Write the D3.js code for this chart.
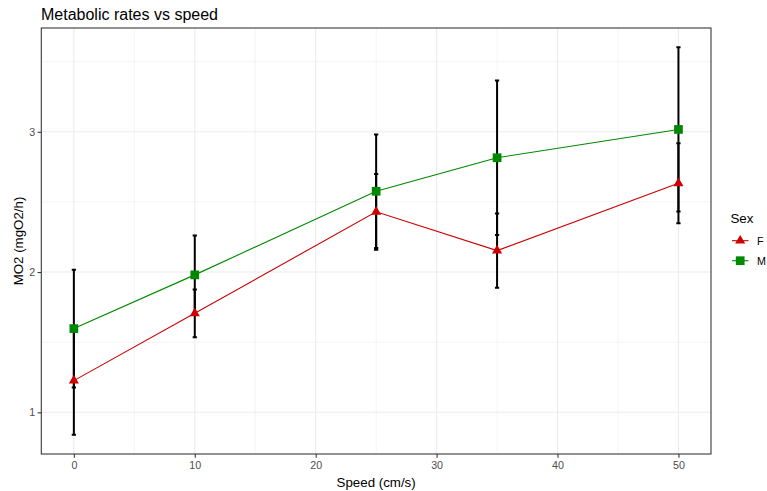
<!DOCTYPE html>
<html><head><meta charset="utf-8">
<script src="https://cdn.jsdelivr.net/npm/d3@7"></script>
<style>body{margin:0;background:#fff}svg{display:block;font-family:"Liberation Sans",Arial,sans-serif}</style>
</head><body><svg id="c" width="767" height="491"></svg>
<script>
const speeds = [0, 10, 25, 35, 50];
const meanF = [1.226, 1.706, 2.43, 2.153, 2.633];
const errF  = [0.385, 0.17, 0.27, 0.265, 0.285];
const meanM = [1.597, 1.98, 2.576, 2.815, 3.017];
const errM  = [0.42, 0.28, 0.405, 0.55, 0.585];
const sexes = ["F", "M"];
const xTicks = [0, 10, 20, 30, 40, 50];
const yTicks = [1, 2, 3];

const colors = {F: "#cc0000", M: "#008800"};
const series = [
  {sex: "F", mean: meanF, err: errF},
  {sex: "M", mean: meanM, err: errM}
];
const capHalf = 0.175;

const P = {l: 41.3, r: 711, t: 28, b: 454};
const svg = d3.select("#c");

// domains with ggplot-style 5% expansion
const lo = d3.min(series, s => d3.min(s.mean, (m, i) => m - s.err[i]));
const hi = d3.max(series, s => d3.max(s.mean, (m, i) => m + s.err[i]));
const yPad = (hi - lo) * 0.05;
const xlo = d3.min(speeds) - capHalf, xhi = d3.max(speeds) + capHalf;
const xPad = (xhi - xlo) * 0.05;
const x = d3.scaleLinear().domain([xlo - xPad, xhi + xPad]).range([P.l, P.r]);
const y = d3.scaleLinear().domain([lo - yPad, hi + yPad]).range([P.b, P.t]);

// grid
const g = svg.append("g");
const xMinor = d3.range(5, 50, 10);
const yMinor = [1.5, 2.5, 3.5].filter(v => v > y.domain()[0] && v < y.domain()[1]);
g.selectAll(".xm").data(xMinor).join("line").attr("x1", d => x(d)).attr("x2", d => x(d))
  .attr("y1", P.t).attr("y2", P.b).attr("stroke", "#ebebeb").attr("stroke-width", 0.55);
g.selectAll(".ym").data(yMinor).join("line").attr("y1", d => y(d)).attr("y2", d => y(d))
  .attr("x1", P.l).attr("x2", P.r).attr("stroke", "#ebebeb").attr("stroke-width", 0.55);
g.selectAll(".xM").data(xTicks).join("line").attr("x1", d => x(d)).attr("x2", d => x(d))
  .attr("y1", P.t).attr("y2", P.b).attr("stroke", "#ebebeb").attr("stroke-width", 1.07);
g.selectAll(".yM").data(yTicks).join("line").attr("y1", d => y(d)).attr("y2", d => y(d))
  .attr("x1", P.l).attr("x2", P.r).attr("stroke", "#ebebeb").attr("stroke-width", 1.07);

// lines
const line = d3.line().x((d) => x(d[0])).y(d => y(d[1]));
series.forEach(s => {
  svg.append("path").attr("d", line(speeds.map((v, i) => [v, s.mean[i]])))
    .attr("fill", "none").attr("stroke", colors[s.sex]).attr("stroke-width", 1.1);
});

// error bars
series.forEach(s => {
  const eb = svg.append("g").attr("stroke", "#000").attr("stroke-width", 2).attr("fill", "none");
  speeds.forEach((v, i) => {
    const top = s.mean[i] + s.err[i], bot = s.mean[i] - s.err[i];
    eb.append("path").attr("d",
      `M${x(v - capHalf)},${y(top)}H${x(v + capHalf)}M${x(v)},${y(top)}V${y(bot)}M${x(v - capHalf)},${y(bot)}H${x(v + capHalf)}`);
  });
});

// points
const tri = d3.symbol().type(d3.symbolTriangle).size(44)();
const sq = d3.symbol().type(d3.symbolSquare).size(76)();
series.forEach(s => {
  svg.append("g").selectAll("path").data(speeds).join("path")
    .attr("d", s.sex === "F" ? tri : sq)
    .attr("transform", (v, i) => `translate(${x(v)},${y(s.mean[i])})`)
    .attr("fill", colors[s.sex]);
});

// panel border
svg.append("rect").attr("x", P.l).attr("y", P.t).attr("width", P.r - P.l).attr("height", P.b - P.t)
  .attr("fill", "none").attr("stroke", "#333333").attr("stroke-width", 1.07);

// axes
const xa = svg.append("g").attr("transform", `translate(0,${P.b})`)
  .call(d3.axisBottom(x).tickValues(xTicks).tickSize(3.7).tickPadding(3.5).tickFormat(d3.format("d")));
const ya = svg.append("g").attr("transform", `translate(${P.l},0)`)
  .call(d3.axisLeft(y).tickValues(yTicks).tickSize(3.7).tickPadding(2.5).tickFormat(d3.format("d")));
[xa, ya].forEach(a => {
  a.select(".domain").remove();
  a.selectAll("line").attr("stroke", "#333333").attr("stroke-width", 1.07);
  a.selectAll("text").attr("fill", "#4d4d4d").attr("font-size", "10.7px")
    .attr("font-family", "Liberation Sans, Arial, sans-serif");
});

// titles
svg.append("text").attr("x", 41).attr("y", 20).attr("font-size", "16px").attr("fill", "#000")
  .text("Metabolic rates vs speed");
svg.append("text").attr("x", (P.l + P.r) / 2).attr("y", 487).attr("text-anchor", "middle")
  .attr("font-size", "13.3px").attr("fill", "#000").text("Speed (cm/s)");
svg.append("text").attr("transform", `translate(23,${(P.t + P.b) / 2}) rotate(-90)`)
  .attr("text-anchor", "middle").attr("font-size", "13.3px").attr("fill", "#000").text("MO2 (mgO2/h)");

// legend
const lg = svg.append("g");
lg.append("text").attr("x", 730.5).attr("y", 222.5).attr("font-size", "13.3px").attr("fill", "#000").text("Sex");
sexes.forEach((sx, i) => {
  const cy = 240.7 + i * 20;
  lg.append("line").attr("x1", 732).attr("x2", 748.5).attr("y1", cy).attr("y2", cy)
    .attr("stroke", colors[sx]).attr("stroke-width", 1.1);
  lg.append("path").attr("d", sx === "F" ? tri : sq).attr("transform", `translate(740.2,${cy})`)
    .attr("fill", colors[sx]);
  lg.append("text").attr("x", 757).attr("y", cy).attr("dy", "0.36em").attr("font-size", "10.7px")
    .attr("fill", "#000").text(sx);
});
</script></body></html>
